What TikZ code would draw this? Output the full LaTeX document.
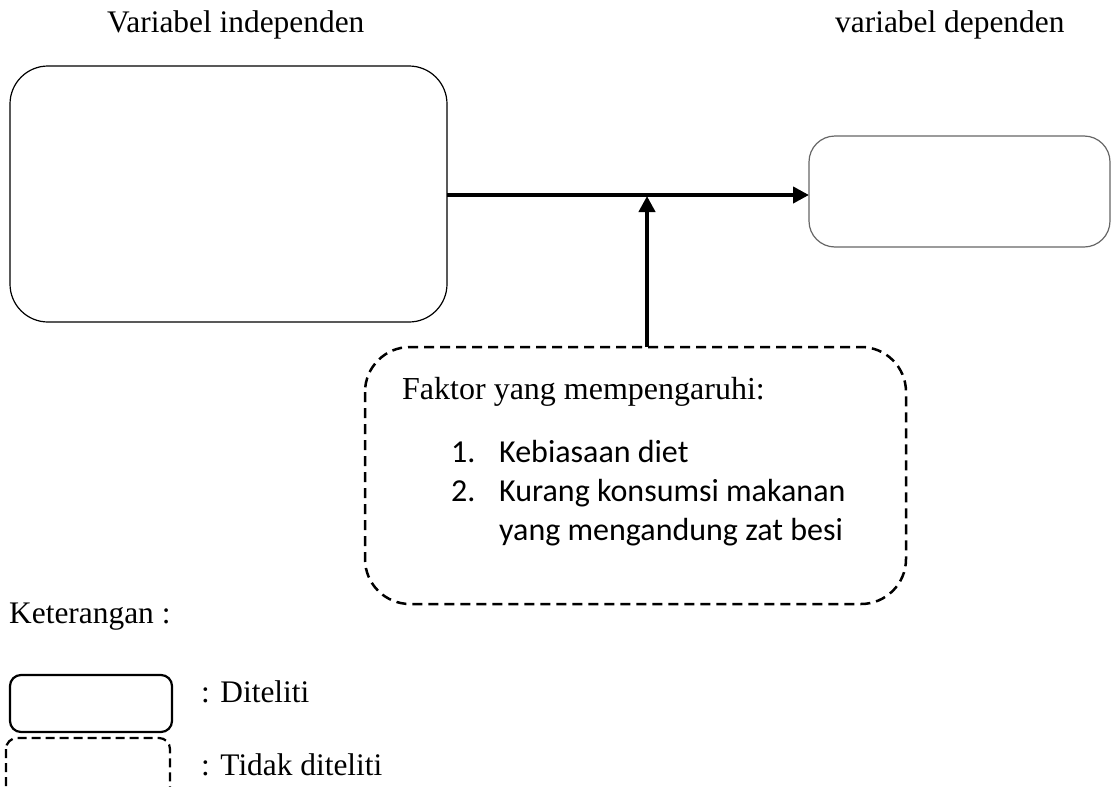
\documentclass[tikz,border=0pt]{standalone}
\usepackage{fontspec}
\setmainfont{Liberation Serif}
\newfontfamily\calfont{Carlito}
\usetikzlibrary{arrows.meta}
\begin{document}
\begin{tikzpicture}[x=1pt,y=-1pt,
  lbl/.style={anchor=base west,inner sep=0pt,font=\fontsize{31.4}{38}\selectfont},
  lst/.style={anchor=base west,inner sep=0pt,font=\calfont\fontsize{32}{39}\selectfont},
  solidbox/.style={draw=black,line width=1.2pt},
  dashbox/.style={draw=black,line width=2.5pt,dash pattern=on 10pt off 6pt},
  arr/.style={line width=4pt,-{Triangle[length=16pt,width=16pt]}}]
\useasboundingbox (0,0) rectangle (1111,787);
\node[lbl] (tind) at (107,32) {Variabel independen};
\node[lbl] (tdep) at (835,32) {variabel dependen};
\draw[solidbox,rounded corners=38pt] (10,66) rectangle (447,322);
\coordinate (indR) at (447,195);
\draw[draw=black!60,line width=1.2pt,rounded corners=26pt] (809,136) rectangle (1110,247);
\coordinate (depL) at (809,195);
\draw[dashbox,rounded corners=45pt] (365,347) rectangle (906,604);
\coordinate (fakT) at (647,347);
\coordinate (mid) at (647,196);
\draw[arr] (indR) -- (depL);
\draw[arr] (fakT) -- (mid);
\node[lbl,font=\fontsize{32}{38}\selectfont] (fak) at (402,399) {Faktor yang mempengaruhi:};
\node[lst] (n1) at (451,462) {1.};
\node[lst] (i1) at (499,462) {Kebiasaan diet};
\node[lst] (n2) at (451,501) {2.};
\node[lst] (i2) at (499,501) {Kurang konsumsi makanan};
\node[lst] (i3) at (499,540) {yang mengandung zat besi};
\node[lbl] (ket) at (9,623) {Keterangan :};
\draw[draw=black,line width=2.2pt,rounded corners=11pt] (10,675) rectangle (172,732);
\node[lbl] (dit) at (201,702) {: Diteliti};
\draw[draw=black,line width=2.2pt,dash pattern=on 9pt off 5pt,rounded corners=11pt] (6,738) rectangle (170,800);
\node[lbl] (tdit) at (201,775) {: Tidak diteliti};
\end{tikzpicture}
\end{document}
